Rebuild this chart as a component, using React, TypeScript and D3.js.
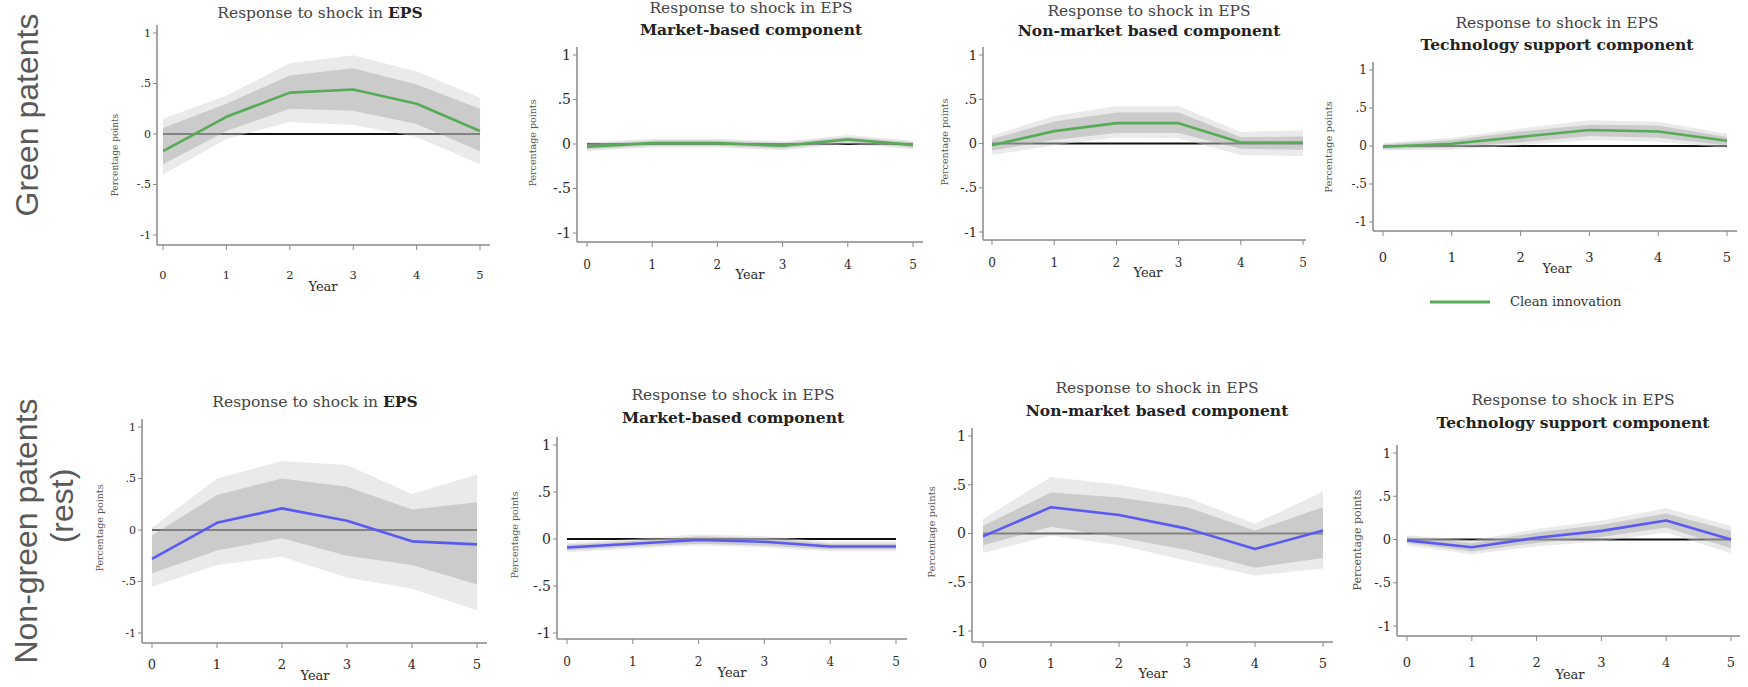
import * as d3 from "d3";

const years = [0, 1, 2, 3, 4, 5];
const yTicks = [-1, -0.5, 0, 0.5, 1];

// green patents (clean innovation)
const greenEps = [-0.17, 0.17, 0.41, 0.44, 0.3, 0.03];
const greenEpsDark = [[-0.3, 0.06], [0.03, 0.3], [0.25, 0.58], [0.23, 0.65], [0.1, 0.49], [-0.17, 0.25]];
const greenEpsLight = [[-0.4, 0.15], [-0.05, 0.38], [0.12, 0.7], [0.09, 0.78], [-0.03, 0.62], [-0.3, 0.36]];

const greenMarket = [-0.03, 0.01, 0.01, -0.02, 0.05, -0.01];
const greenMarketDark = [[-0.06, 0.0], [-0.02, 0.04], [-0.02, 0.04], [-0.05, 0.01], [0.02, 0.08], [-0.04, 0.02]];
const greenMarketLight = [[-0.08, 0.02], [-0.04, 0.06], [-0.04, 0.06], [-0.07, 0.03], [0.0, 0.1], [-0.06, 0.04]];

const greenNonMarket = [-0.02, 0.14, 0.23, 0.23, 0.01, 0.01];
const greenNonMarketDark = [[-0.08, 0.05], [0.04, 0.25], [0.12, 0.35], [0.12, 0.35], [-0.06, 0.07], [-0.07, 0.08]];
const greenNonMarketLight = [[-0.13, 0.09], [-0.02, 0.31], [0.07, 0.42], [0.06, 0.42], [-0.13, 0.13], [-0.14, 0.15]];

const greenTech = [-0.01, 0.03, 0.12, 0.21, 0.19, 0.07];
const greenTechDark = [[-0.04, 0.02], [-0.02, 0.08], [0.05, 0.19], [0.13, 0.28], [0.11, 0.27], [0.01, 0.12]];
const greenTechLight = [[-0.06, 0.04], [-0.05, 0.11], [0.01, 0.23], [0.08, 0.34], [0.06, 0.32], [-0.03, 0.16]];

// non-green patents (rest)
const restEps = [-0.28, 0.07, 0.21, 0.09, -0.11, -0.14];
const restEpsDark = [[-0.42, -0.05], [-0.2, 0.34], [-0.08, 0.5], [-0.25, 0.42], [-0.34, 0.2], [-0.53, 0.27]];
const restEpsLight = [[-0.55, 0.02], [-0.34, 0.5], [-0.26, 0.67], [-0.46, 0.63], [-0.57, 0.35], [-0.78, 0.54]];

const restMarket = [-0.09, -0.05, -0.01, -0.03, -0.08, -0.08];
const restMarketDark = [[-0.12, -0.06], [-0.08, -0.02], [-0.05, 0.03], [-0.07, 0.01], [-0.11, -0.05], [-0.11, -0.05]];
const restMarketLight = [[-0.14, -0.04], [-0.1, 0.0], [-0.07, 0.05], [-0.09, 0.03], [-0.13, -0.03], [-0.13, -0.03]];

const restNonMarket = [-0.03, 0.27, 0.19, 0.05, -0.16, 0.03];
const restNonMarketDark = [[-0.12, 0.08], [0.07, 0.42], [-0.04, 0.37], [-0.17, 0.27], [-0.35, 0.03], [-0.25, 0.27]];
const restNonMarketLight = [[-0.2, 0.15], [-0.02, 0.58], [-0.12, 0.5], [-0.28, 0.37], [-0.43, 0.1], [-0.36, 0.43]];

const restTech = [-0.01, -0.09, 0.02, 0.1, 0.22, 0.0];
const restTechDark = [[-0.04, 0.03], [-0.14, -0.04], [-0.04, 0.08], [0.03, 0.17], [0.14, 0.3], [-0.1, 0.1]];
const restTechLight = [[-0.07, 0.05], [-0.17, -0.01], [-0.08, 0.12], [-0.02, 0.22], [0.08, 0.36], [-0.16, 0.16]];

const subtitles = ["Market-based component", "Non-market based component", "Technology support component"];
const rowLabels = ["Green patents", "Non-green patents", "(rest)"];
const legendLabel = "Clean innovation";

const GREEN = "#56ab56";
const BLUE = "#5a5af2";
const SERIF = "'DejaVu Serif', 'Liberation Serif', serif";
const SANS = "'Liberation Sans', Arial, sans-serif";

const panels = [
  { id: "p1", line: greenEps, dark: greenEpsDark, light: greenEpsLight, color: GREEN, sub: null,
    x0: 163, x5: 480, y1: 33, yM1: 235, yAxisX: 157, xAxisY: 245, axisEnd: 490,
    titleX: 320, titleY: [18], ylab: [115, 155, 9], tickY: 279, year: [323, 291], yt: 11, xt: 11.5 },
  { id: "p2", line: greenMarket, dark: greenMarketDark, light: greenMarketLight, color: GREEN, sub: subtitles[0],
    x0: 587, x5: 913, y1: 55, yM1: 233, yAxisX: 577, xAxisY: 242, axisEnd: 923,
    titleX: 751, titleY: [13, 35], ylab: [533, 143, 9.5], tickY: 269, year: [750, 279], yt: 14, xt: 12 },
  { id: "p3", line: greenNonMarket, dark: greenNonMarketDark, light: greenNonMarketLight, color: GREEN, sub: subtitles[1],
    x0: 992, x5: 1303, y1: 55, yM1: 232, yAxisX: 983, xAxisY: 240, axisEnd: 1312, clip: 1306,
    titleX: 1149, titleY: [16, 36], ylab: [945, 142, 9.5], tickY: 267, year: [1148, 277], yt: 13, xt: 12 },
  { id: "p4", line: greenTech, dark: greenTechDark, light: greenTechLight, color: GREEN, sub: subtitles[2],
    x0: 1383, x5: 1727, y1: 70, yM1: 222, yAxisX: 1373, xAxisY: 231, axisEnd: 1737,
    titleX: 1557, titleY: [28, 50], ylab: [1328, 147, 10], tickY: 262, year: [1557, 273], yt: 12, xt: 13 },
  { id: "p5", line: restEps, dark: restEpsDark, light: restEpsLight, color: BLUE, sub: null,
    x0: 152, x5: 477, y1: 427, yM1: 633, yAxisX: 142, xAxisY: 643, axisEnd: 487,
    titleX: 315, titleY: [407], ylab: [100, 528, 9.5], tickY: 669, year: [315, 680], yt: 11, xt: 13 },
  { id: "p6", line: restMarket, dark: restMarketDark, light: restMarketLight, color: BLUE, sub: subtitles[0],
    x0: 567, x5: 896, y1: 445, yM1: 633, yAxisX: 557, xAxisY: 639, axisEnd: 907,
    titleX: 733, titleY: [400, 423], ylab: [515, 535, 9.5], tickY: 666, year: [732, 677], yt: 14, xt: 12 },
  { id: "p7", line: restNonMarket, dark: restNonMarketDark, light: restNonMarketLight, color: BLUE, sub: subtitles[1],
    x0: 983, x5: 1323, y1: 436, yM1: 631, yAxisX: 972, xAxisY: 642, axisEnd: 1333,
    titleX: 1157, titleY: [393, 416], ylab: [931, 532, 10], tickY: 668, year: [1153, 678], yt: 14, xt: 13 },
  { id: "p8", line: restTech, dark: restTechDark, light: restTechLight, color: BLUE, sub: subtitles[2],
    x0: 1407, x5: 1731, y1: 453, yM1: 626, yAxisX: 1397, xAxisY: 636, axisEnd: 1740,
    titleX: 1573, titleY: [405, 428], ylab: [1357, 540, 11], tickY: 667, year: [1570, 679], yt: 13, xt: 13 },
];

const fmt = (d: number) => String(d).replace("0.", ".");

function Panel({ p }: { p: any }) {
  const x = d3.scaleLinear([0, 5], [p.x0, p.x5]);
  const y = d3.scaleLinear([-1, 1], [p.yM1, p.y1]);
  const band = d3
    .area<number[]>()
    .x((d, i) => x(years[i]))
    .y0((d) => y(d[0]))
    .y1((d) => y(d[1]));
  const line = d3
    .line<number>()
    .x((d, i) => x(years[i]))
    .y((d) => y(d));

  const single = p.sub === null;
  return (
    <g clipPath={p.clip ? `url(#clip-${p.id})` : undefined}>
      {p.clip && (
        <clipPath id={`clip-${p.id}`}>
          <rect x={p.yAxisX - 80} y={0} width={p.clip - p.yAxisX + 80} height={687} />
        </clipPath>
      )}
      {/* titles */}
      {single ? (
        <text x={p.titleX} y={p.titleY[0]} textAnchor="middle" fontFamily={SERIF} fontSize={15.5} fill="#444">
          Response to shock in <tspan fontWeight="bold" fill="#222">EPS</tspan>
        </text>
      ) : (
        <>
          <text x={p.titleX} y={p.titleY[0]} textAnchor="middle" fontFamily={SERIF} fontSize={15.5} fill="#444">
            Response to shock in EPS
          </text>
          <text x={p.titleX} y={p.titleY[1]} textAnchor="middle" fontFamily={SERIF} fontSize={15.5} fontWeight="bold" fill="#222">
            {p.sub}
          </text>
        </>
      )}

      {/* zero line, bands, estimate */}
      <line x1={x(0)} x2={x(5)} y1={y(0)} y2={y(0)} stroke="#111" strokeWidth={2} />
      <path d={band(p.light) ?? ""} fill="#d0d0d0" fillOpacity={0.45} />
      <path d={band(p.dark) ?? ""} fill="#a7a7a7" fillOpacity={0.45} />
      <path d={line(p.line) ?? ""} fill="none" stroke={p.color} strokeWidth={2.6} strokeLinejoin="round" />

      {/* axes */}
      <line x1={p.yAxisX} x2={p.yAxisX} y1={y(1) - 8} y2={p.xAxisY} stroke="#888" strokeWidth={1.5} />
      <line x1={p.yAxisX} x2={p.axisEnd} y1={p.xAxisY} y2={p.xAxisY} stroke="#888" strokeWidth={1.5} />
      {yTicks.map((t) => (
        <g key={t}>
          <line x1={p.yAxisX - 4} x2={p.yAxisX} y1={y(t)} y2={y(t)} stroke="#888" strokeWidth={1} />
          <text x={p.yAxisX - 6} y={y(t)} dy="0.35em" textAnchor="end" fontFamily={SERIF} fontSize={p.yt} fill="#2a2a2a">
            {fmt(t)}
          </text>
        </g>
      ))}
      {years.map((t) => (
        <g key={t}>
          <line x1={x(t)} x2={x(t)} y1={p.xAxisY} y2={p.xAxisY + 5} stroke="#888" strokeWidth={1} />
          <text x={x(t)} y={p.tickY} textAnchor="middle" fontFamily={SERIF} fontSize={p.xt} fill="#2a2a2a">
            {t}
          </text>
        </g>
      ))}
      <text
        transform={`translate(${p.ylab[0]},${p.ylab[1]}) rotate(-90)`}
        textAnchor="middle"
        dy="0.35em"
        fontFamily={SERIF}
        fontSize={p.ylab[2]}
        fill="#555"
      >
        Percentage points
      </text>
      <text x={p.year[0]} y={p.year[1]} textAnchor="middle" fontFamily={SERIF} fontSize={13} fill="#2a2a2a">
        Year
      </text>
    </g>
  );
}

export default function App() {
  return (
    <svg
      width={1748}
      height={687}
      style={{ position: "absolute", left: 0, top: 0, display: "block", background: "#fff" }}
    >
      <rect width={1748} height={687} fill="#fff" />
      {panels.map((p) => (
        <Panel key={p.id} p={p} />
      ))}

      {/* legend under the top-right panel */}
      <line x1={1430} x2={1490} y1={302} y2={302} stroke={GREEN} strokeWidth={3} />
      <text x={1510} y={306} fontFamily={SERIF} fontSize={13} fill="#333">
        {legendLabel}
      </text>

      {/* row labels */}
      <text transform="translate(38,115) rotate(-90)" textAnchor="middle" fontFamily={SANS} fontSize={32} fill="#595959">
        {rowLabels[0]}
      </text>
      <text transform="translate(37,531) rotate(-90)" textAnchor="middle" fontFamily={SANS} fontSize={32} fill="#595959">
        {rowLabels[1]}
      </text>
      <text transform="translate(73,506) rotate(-90)" textAnchor="middle" fontFamily={SANS} fontSize={32} fill="#595959">
        {rowLabels[2]}
      </text>
    </svg>
  );
}
